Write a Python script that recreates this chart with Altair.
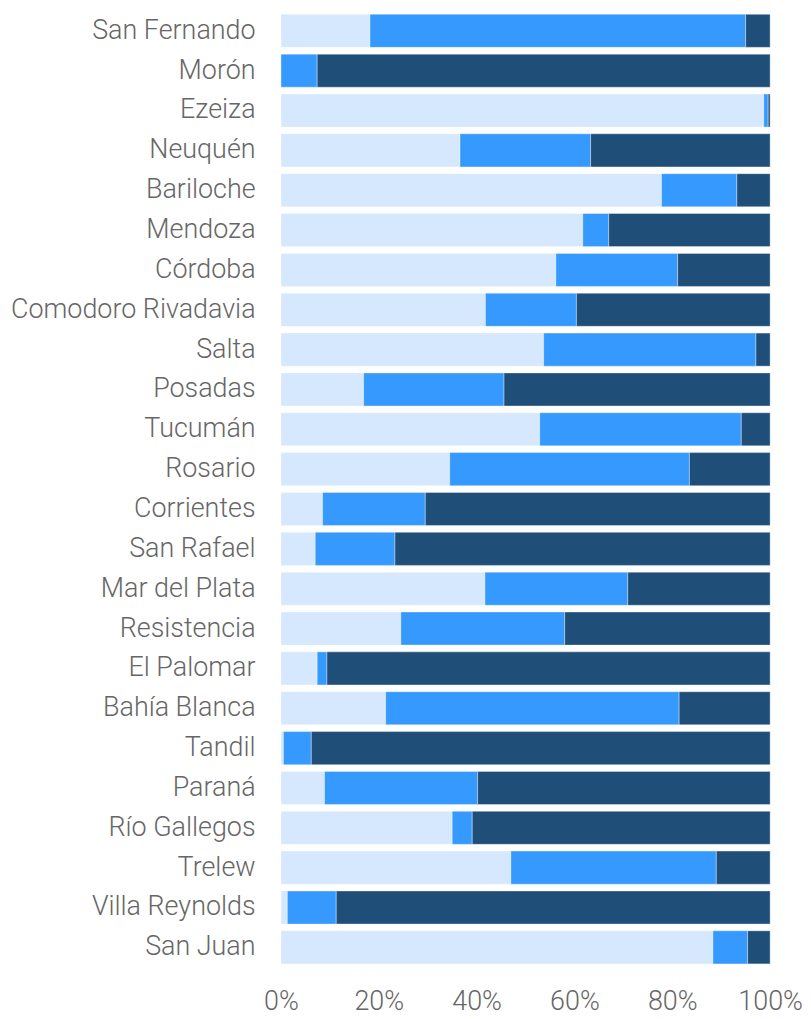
import altair as alt
import pandas as pd

cities = ["San Fernando", "Morón", "Ezeiza", "Neuquén", "Bariloche", "Mendoza",
          "Córdoba", "Comodoro Rivadavia", "Salta", "Posadas", "Tucumán", "Rosario",
          "Corrientes", "San Rafael", "Mar del Plata", "Resistencia", "El Palomar",
          "Bahía Blanca", "Tandil", "Paraná", "Río Gallegos", "Trelew",
          "Villa Reynolds", "San Juan"]

serie_1 = [18.2, 0.0, 98.7, 36.6, 77.8, 61.7, 56.2, 41.8, 53.7, 16.9, 52.9, 34.5,
           8.5, 7.0, 41.7, 24.5, 7.4, 21.4, 0.5, 8.9, 35.0, 47.0, 1.3, 88.3]
serie_2 = [76.8, 7.4, 0.9, 26.7, 15.4, 5.3, 24.9, 18.6, 43.4, 28.7, 41.2, 49.0,
           21.0, 16.3, 29.2, 33.5, 2.0, 60.0, 5.7, 31.3, 4.1, 42.0, 10.0, 7.1]
serie_3 = [5.0, 92.6, 0.4, 36.7, 6.8, 33.0, 18.9, 39.6, 2.9, 54.4, 5.9, 16.5,
           70.5, 76.7, 29.1, 42.0, 90.6, 18.6, 93.8, 59.8, 60.9, 11.0, 88.7, 4.6]

series_names = ["Serie 1", "Serie 2", "Serie 3"]
series_colors = ["#d5e8fd", "#3599fd", "#1f4f79"]

rows = []
for i, c in enumerate(cities):
    for k, vals in enumerate([serie_1, serie_2, serie_3]):
        rows.append({"ciudad": c, "serie": series_names[k], "orden": k, "valor": vals[i]})
df = pd.DataFrame(rows)

chart = alt.Chart(df).mark_bar(
    stroke="white", strokeWidth=0.6, strokeOpacity=0.6
).encode(
    y=alt.Y("ciudad:N", sort=cities, title=None,
            scale=alt.Scale(paddingInner=0.17, paddingOuter=0.085),
            axis=alt.Axis(labelFont="Roboto", labelFontWeight=300, labelFontSize=27,
                          labelColor="#666666", labelPadding=26, ticks=False,
                          domain=False, labelLimit=0)),
    x=alt.X("valor:Q", stack="normalize", title=None,
            scale=alt.Scale(domain=[0, 1], nice=False),
            axis=alt.Axis(values=[0, 0.2, 0.4, 0.6, 0.8, 1.0], format=".0%",
                          labelFont="Roboto", labelFontWeight=300, labelFontSize=27,
                          labelColor="#666666", labelPadding=21, ticks=False,
                          labelFlush=False, domain=False, grid=False)),
    color=alt.Color("serie:N", scale=alt.Scale(domain=series_names, range=series_colors),
                    legend=None),
    order=alt.Order("orden:Q", sort="ascending"),
).properties(
    width=491, height=960,
    padding={"left": 2, "top": 1, "right": 0, "bottom": 0},
).configure_view(stroke=None)

chart.save("out.html", embed_options={"renderer": "svg", "actions": False})
